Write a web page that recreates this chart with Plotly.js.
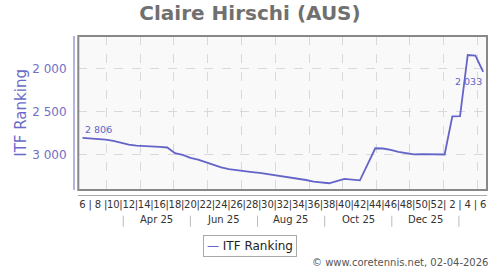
<!DOCTYPE html>
<html>
<head>
<meta charset="utf-8">
<script src="https://cdn.plot.ly/plotly-3.0.1.min.js"></script>
<style>html,body{margin:0;padding:0;background:#fff;}#chart{width:500px;height:270px;}</style>
</head>
<body>
<div id="chart"></div>
<script>
const weekDates = [
  '2025-02-07','2025-02-14','2025-02-21','2025-02-28',
  '2025-03-07','2025-03-14','2025-03-21','2025-03-28',
  '2025-04-04','2025-04-11','2025-04-18','2025-04-25',
  '2025-05-02','2025-05-09','2025-05-16','2025-05-23','2025-05-30',
  '2025-06-06','2025-06-13','2025-06-20','2025-06-27',
  '2025-07-04','2025-07-11','2025-07-18','2025-07-25',
  '2025-08-01','2025-08-08','2025-08-15','2025-08-22','2025-08-29',
  '2025-09-05','2025-09-12','2025-09-19','2025-09-26',
  '2025-10-03','2025-10-10','2025-10-17','2025-10-24','2025-10-31',
  '2025-11-07','2025-11-14','2025-11-21','2025-11-28',
  '2025-12-05','2025-12-12','2025-12-19','2025-12-26',
  '2026-01-02','2026-01-09','2026-01-16','2026-01-23','2026-01-30',
  '2026-02-06'
];
const itfRanking = [
  2806, 2810, 2818, 2826,
  2842, 2866, 2884, 2896,
  2898, 2900, 2910, 2918,
  2985, 3005, 3040, 3060, 3090,
  3124, 3150, 3172, 3186,
  3196, 3205, 3214, 3228,
  3241, 3256, 3266, 3276, 3298,
  3318, 3328, 3336, 3310,
  3284, 3293, 3302, 3115, 2927,
  2930, 2945, 2970, 2980,
  2998, 2995, 2998, 3000,
  3000, 2555, 2551, 1837, 1845,
  2033
];
const weekLabels = [
  '6','|','8','|','10','|','12','|','14','|','16','|','18','|','20','|','22','|','24','|',
  '26','|','28','|','30','|','32','|','34','|','36','|','38','|','40','|','42','|','44','|',
  '46','|','48','|','50','|','52','|','2','|','4','|','6'
];
const monthLabels = ['Apr 25','Jun 25','Aug 25','Oct 25','Dec 25'];
const monthLabelDates = ['2025-04-15','2025-06-15','2025-08-15','2025-10-16','2025-12-16'];
const monthSepDates = ['2025-03-16','2025-05-16','2025-07-16','2025-09-15','2025-11-15','2026-01-15'];
const yTicks = [2000, 2500, 3000];

const lineColor = '#6464c8';
const font = 'DejaVu Sans, sans-serif';
const xRange = ['2025-02-03 04:00', '2026-02-09 12:00'];
const fmt = v => String(v).replace(/\B(?=(\d{3})+(?!\d))/g, ' ');

const traces = [
  {
    x: weekDates, y: itfRanking, type: 'scatter', mode: 'lines',
    line: {color: lineColor, width: 1.8}, showlegend: false, hoverinfo: 'x+y'
  },
  {x: [], y: [], xaxis: 'x2', yaxis: 'y', type: 'scatter', mode: 'lines', showlegend: false, hoverinfo: 'skip'}
];

const last = itfRanking.length - 1;
const annotations = [
  {
    x: weekDates[0], y: itfRanking[0], xref: 'x', yref: 'y', text: fmt(itfRanking[0]), showarrow: false,
    xanchor: 'left', yanchor: 'middle', yshift: 8, font: {family: font, size: 9.5, color: lineColor}
  },
  {
    x: weekDates[last], y: itfRanking[last], xref: 'x', yref: 'y', text: fmt(itfRanking[last]), showarrow: false,
    xanchor: 'right', yanchor: 'middle', yshift: -9.5, xshift: 1, font: {family: font, size: 9.5, color: lineColor}
  }
];
monthLabels.forEach((t, i) => annotations.push({
  x: monthLabelDates[i], y: -0.157, xref: 'x', yref: 'paper', text: t, showarrow: false,
  xanchor: 'center', yanchor: 'middle', font: {family: font, size: 10, color: '#333'}
}));
annotations.push({
  x: -0.1263, y: 0.5157, xref: 'paper', yref: 'paper', xanchor: 'center', yanchor: 'middle',
  text: 'ITF Ranking', textangle: -90, showarrow: false,
  font: {family: font, size: 15, color: '#6a6ac8'}
});
annotations.push({
  x: 0.4266, y: -0.2516, xref: 'paper', yref: 'paper', xanchor: 'center', yanchor: 'top',
  text: "<span style='color:" + lineColor + "'>—</span> ITF Ranking", showarrow: false,
  bordercolor: '#aaa', borderwidth: 1, borderpad: 3, bgcolor: '#fff',
  font: {family: font, size: 12, color: '#222'}
});
annotations.push({
  x: 1.0072, y: -0.4258, xref: 'paper', yref: 'paper', xanchor: 'right', yanchor: 'middle',
  text: '© www.coretennis.net, 02-04-2026', showarrow: false,
  font: {family: font, size: 10, color: '#555'}
});

const shapes = [{
  type: 'rect', xref: 'x domain', yref: 'y domain', x0: 0, x1: 1, y0: 0, y1: 1,
  line: {color: '#888', width: 2}, layer: 'above'
}];
monthSepDates.forEach(d => shapes.push({
  type: 'line', xref: 'x', yref: 'paper', x0: d, x1: d, y0: -0.13, y1: -0.2,
  line: {color: '#bbb', width: 1}
}));

const layout = {
  width: 500, height: 270,
  margin: {l: 73, r: 13, t: 36, b: 75},
  paper_bgcolor: '#fff', plot_bgcolor: '#f9f9f9',
  separators: '. ',
  title: {
    text: 'Claire Hirschi (AUS)', xref: 'container', yref: 'container', x: 0.5, y: 0.952,
    xanchor: 'center', yanchor: 'middle',
    font: {family: font, size: 20, color: '#707070', weight: 'bold'}
  },
  xaxis: {
    type: 'date', range: xRange, domain: [0.0128, 1], anchor: 'free', position: 0,
    tickmode: 'array', tickvals: weekDates, ticktext: weekLabels, tickangle: 0,
    ticks: '', showgrid: false, zeroline: false,
    showline: true, linecolor: '#aaa', linewidth: 1,
    tickfont: {family: font, size: 10, color: '#333'}
  },
  xaxis2: {
    type: 'date', range: xRange, overlaying: 'x', matches: 'x', anchor: 'y',
    tick0: '2025-03-01', dtick: 'M1', showticklabels: false, ticks: '',
    showgrid: true, gridcolor: '#d9d9d9', griddash: 'dash', gridwidth: 1, showline: false, zeroline: false
  },
  yaxis: {
    range: [3415, 1615], domain: [0.0314, 1], anchor: 'free', position: 0,
    tickmode: 'array', tickvals: yTicks, tickformat: ',d', ticks: '',
    showgrid: true, gridcolor: '#d9d9d9', griddash: 'dash', gridwidth: 1, zeroline: false,
    showline: true, linecolor: '#b4b4e0', linewidth: 1.5, ticklabelstandoff: 4,
    tickfont: {family: font, size: 12, color: '#7070c8'}
  },
  shapes: shapes,
  annotations: annotations
};

Plotly.newPlot('chart', traces, layout, {displayModeBar: false, staticPlot: true});
</script>
</body>
</html>
